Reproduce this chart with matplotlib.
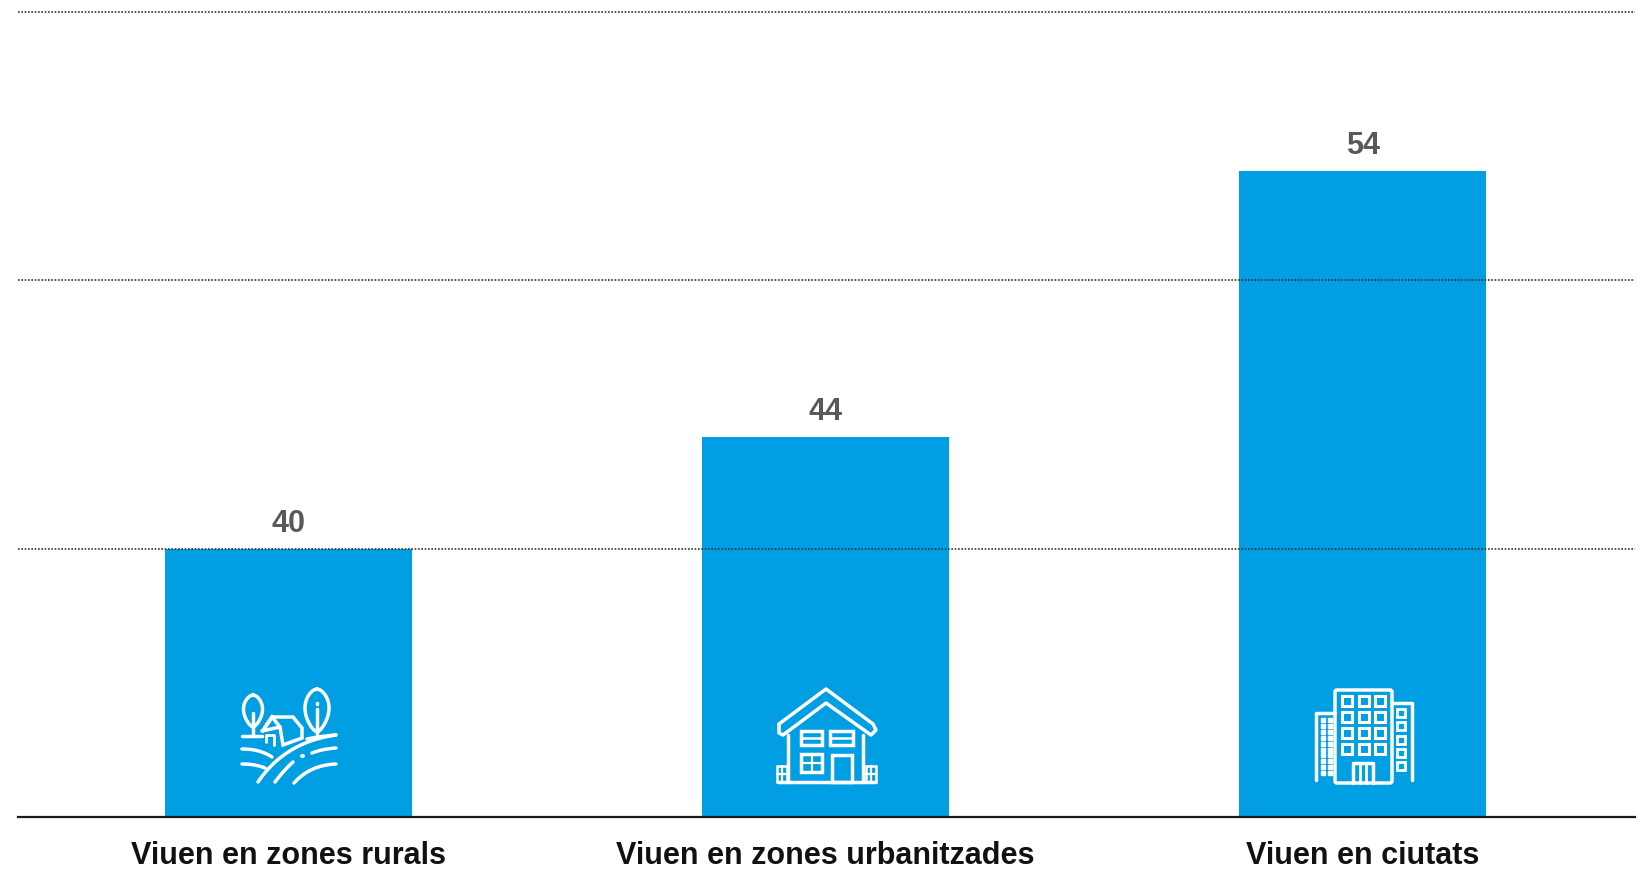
import matplotlib
matplotlib.use("Agg")
import matplotlib.pyplot as plt
import numpy as np
from matplotlib.patches import Polygon, Rectangle, FancyBboxPatch

plt.rcParams['font.family'] = ['Liberation Sans', 'DejaVu Sans']

categories = ["Viuen en zones rurals", "Viuen en zones urbanitzades", "Viuen en ciutats"]
values = [40, 44.15, 54.06]
grid_ticks = [30, 40, 50, 60]

W, H = 1643, 872
BLUE = "#009fe3"
fig = plt.figure(figsize=(W / 100, H / 100), dpi=100)
ax = fig.add_axes([18 / W, 1 - 817 / H, (1635 - 18) / W, 817 / H])

x = np.arange(len(categories))
ax.bar(x, values, width=0.46, color=BLUE, zorder=2)
ax.set_xlim(-0.504, 2.507)
ax.set_ylim(30, 60.43)

ax.set_yticks(grid_ticks)
ax.tick_params(axis="y", length=0, labelleft=False)
ax.grid(axis="y", color="#333333", linestyle=(0, (1, 1)), linewidth=1.2, zorder=3)
ax.set_axisbelow(False)
ax.xaxis.grid(False)

ax.set_xticks(x)
ax.set_xticklabels(categories, fontsize=22, fontweight="bold", color="#111111")
ax.tick_params(axis="x", length=0, pad=17)

for s in ["top", "left", "right"]:
    ax.spines[s].set_visible(False)
ax.spines["bottom"].set_linewidth(1.6)
ax.spines["bottom"].set_color("#1a1a1a")
ax.spines["bottom"].set_zorder(5)

for xi, v in zip(x, values):
    ax.annotate(f"{v:.0f}", (xi, v), xytext=(0, 7), textcoords="offset points",
                ha="center", va="bottom", fontsize=22, fontweight="bold",
                color="#595959", zorder=6)

# overlay in pixels for the white icons
ic = fig.add_axes([0, 0, 1, 1])
ic.set_xlim(0, W)
ic.set_ylim(H, 0)
ic.axis("off")
ic.patch.set_alpha(0)
LW = 2.5


def line(px, py, lw=LW):
    ic.plot(px, py, color="white", lw=lw, solid_capstyle="round", solid_joinstyle="round")


def curve(p0, p1, p2, lw=LW):
    t = np.linspace(0, 1, 30)
    cx = (1 - t) ** 2 * p0[0] + 2 * t * (1 - t) * p1[0] + t ** 2 * p2[0]
    cy = (1 - t) ** 2 * p0[1] + 2 * t * (1 - t) * p1[1] + t ** 2 * p2[1]
    line(cx, cy, lw)


def box(x0, y0, w, h, lw=LW):
    ic.add_patch(Rectangle((x0, y0), w, h, fc="none", ec="white", lw=lw))


def leaf(cx, top, bottom, hw):
    t = np.linspace(0, 1, 40)
    wid = hw * np.sin(np.pi * t ** 0.85) ** 0.65
    yy = top + (bottom - top) * t
    ic.plot(np.r_[cx - wid, (cx + wid)[::-1]], np.r_[yy, yy[::-1]], color="white", lw=LW)


# rural icon
leaf(253, 695, 727, 9.5)
line([253, 253], [713, 735])
leaf(317, 689, 732, 12)
line([317, 317], [709, 735])
line([317, 317], [703, 704])
line([242, 262], [736, 736])
curve((307, 739), (322, 736), (336, 735))
ic.add_patch(Polygon([(262, 732), (272, 717), (293, 717), (302, 728), (302, 738), (283, 745), (280, 727), (272, 717)],
                     closed=True, fc="none", ec="white", lw=LW))
line([262, 280], [731, 727])
line([266, 266, 274, 274], [742, 735, 735, 745], 2.0)
curve((242, 749), (260, 749), (272, 757))
curve((312, 753), (322, 749), (336, 748))
curve((242, 764), (255, 764), (265, 768))
curve((258, 782), (285, 742), (336, 735))
curve((275, 782), (284, 770), (293, 762))
curve((294, 783), (310, 765), (336, 764))
line([302, 303], [756, 756], 2.8)

# house icon
line([779, 826, 873, 876, 871, 826, 783, 779, 779],
     [724, 689, 724, 730, 735, 703, 735, 733, 724])
line([788, 788], [735, 782])
line([863, 863], [735, 782])
line([778, 875], [782, 782])
box(801, 731, 21, 14)
line([803, 820], [738, 738], 1.8)
box(830, 731, 23, 14)
line([832, 851], [738, 738], 1.8)
box(801, 754, 21, 18)
line([811.5, 811.5], [754, 772], 1.6)
line([801, 822], [763, 763], 1.6)
box(832, 755, 20, 27)
for fx in [777, 866]:
    box(fx, 766, 10, 16, 1.8)
    line([fx + 5, fx + 5], [766, 782], 1.6)
    line([fx, fx + 10], [774, 774], 1.6)

# city icon
ic.add_patch(FancyBboxPatch((1335, 690), 57, 93, boxstyle="round,pad=0,rounding_size=2",
                            fc="none", ec="white", lw=LW))
line([1335, 1316, 1316], [713, 713, 780])
line([1392, 1412, 1412], [703, 703, 780])
for r in range(4):
    for c in range(3):
        box(1342 + c * 16.5, 696 + r * 16, 10, 10, 2.2)
for r in range(10):
    for c in range(2):
        ic.plot(1323 + c * 7, 720 + r * 5.9, "s", color="white", ms=3.0)
for r in range(5):
    box(1397, 709 + r * 13.3, 8, 8, 2.0)
line([1353, 1353, 1373, 1373], [783, 763, 763, 783])
line([1360, 1360], [763, 783], 2.0)
line([1366, 1366], [763, 783], 2.0)

fig.savefig("out.png", dpi=100, facecolor="white")
